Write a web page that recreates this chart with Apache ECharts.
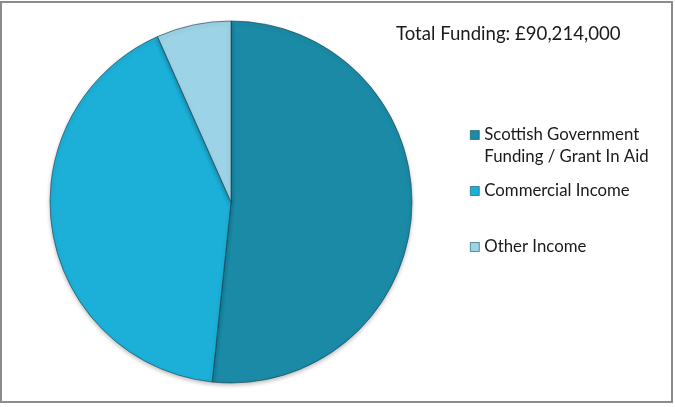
<!DOCTYPE html>
<html>
<head>
<meta charset="utf-8">
<script src="https://cdn.jsdelivr.net/npm/echarts@6/dist/echarts.min.js"></script>
<style>
html,body{margin:0;padding:0;background:#fff;}
#chart{width:675px;height:407px;}
</style>
</head>
<body>
<div id="chart"></div>
<script>
const categories = ['Scottish Government Funding / Grant In Aid', 'Commercial Income', 'Other Income'];
const legendLabels = ['\nScottish Government\nFunding / Grant In Aid', 'Commercial Income', 'Other Income'];
const values = [46600, 37600, 6000]; // £ thousands (estimated)
const colors = ['#1a8aa6', '#1cafd7', '#9dd3e6'];
const titleText = 'Total Funding: £90,214,000';

const chart = echarts.init(document.getElementById('chart'));
const fontFamily = 'Lato, "Open Sans", sans-serif';
const legendTops = [102, 180, 236];

const legends = categories.map((c, i) => ({
  data: [c],
  left: 470,
  top: legendTops[i],
  padding: 0,
  orient: 'vertical',
  itemWidth: 9,
  itemHeight: 9,
  itemGap: 6,
  selectedMode: false,
  icon: 'rect',
  formatter: () => legendLabels[i],
  itemStyle: { borderColor: '#0d4f60', borderWidth: 0.6 },
  textStyle: {
    fontFamily: fontFamily,
    fontSize: 16.8,
    color: '#1a1a1a',
    lineHeight: 22
  }
}));

chart.setOption({
  animation: false,
  color: colors,
  title: {
    text: titleText,
    left: 396,
    top: 24,
    padding: 0,
    textStyle: { fontFamily: fontFamily, fontSize: 18.6, fontWeight: 'normal', color: '#1a1a1a' }
  },
  legend: legends,
  graphic: [{
    type: 'rect',
    shape: { x: 1, y: 2, width: 671, height: 400 },
    style: { fill: 'none', stroke: '#8c8c8c', lineWidth: 2 },
    silent: true
  }],
  series: [{
    type: 'pie',
    center: [231, 202],
    radius: [0, 181],
    startAngle: 90,
    clockwise: true,
    label: { show: false },
    labelLine: { show: false },
    itemStyle: {
      borderColor: 'rgba(20,60,75,0.6)',
      borderWidth: 1,
      shadowColor: 'rgba(0,0,0,0.25)',
      shadowBlur: 4,
      shadowOffsetY: 2
    },
    emphasis: { disabled: true },
    data: categories.map((c, i) => ({ name: c, value: values[i] }))
  }]
});
</script>
</body>
</html>
